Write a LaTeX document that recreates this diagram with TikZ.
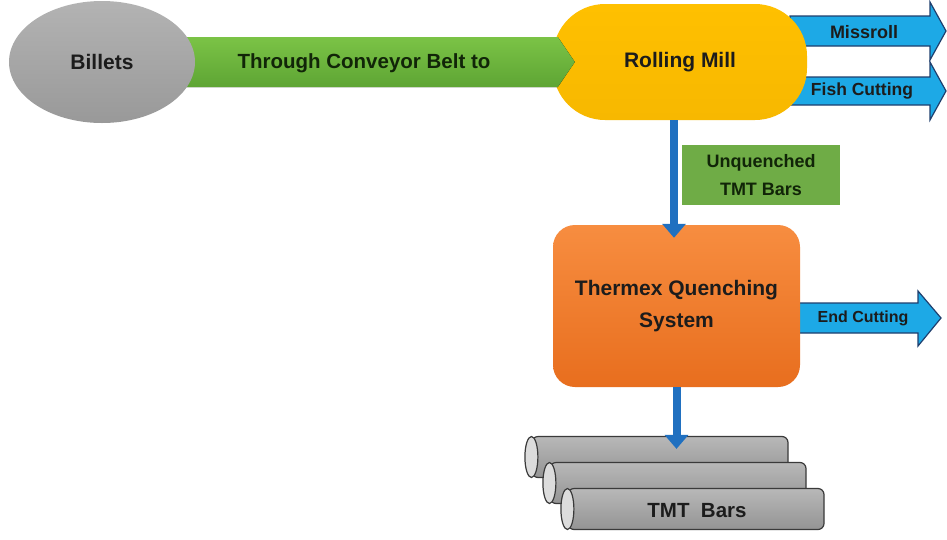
\documentclass[tikz,border=0pt]{standalone}
\usepackage{fontspec}
\setmainfont{Liberation Sans}
\usetikzlibrary{shapes.geometric,arrows.meta,calc}
\definecolor{txt}{HTML}{1C1C1C}
\definecolor{gtxt}{HTML}{112508}
\definecolor{grayA}{HTML}{B3B3B3}
\definecolor{grayB}{HTML}{999999}
\definecolor{greenA}{HTML}{7BC346}
\definecolor{greenB}{HTML}{5EA534}
\definecolor{boxgreen}{HTML}{6FAC46}
\definecolor{gold}{HTML}{FFC000}
\definecolor{goldB}{HTML}{F7B800}
\definecolor{orangeA}{HTML}{F78D40}
\definecolor{orangeB}{HTML}{E86E1E}
\definecolor{skyblue}{HTML}{1DA9E6}
\definecolor{navy}{HTML}{1F3F6E}
\definecolor{connblue}{HTML}{2070C0}
\definecolor{barA}{HTML}{B8B8B8}
\definecolor{barB}{HTML}{949494}
\definecolor{barcapc}{HTML}{DCDCDC}
\definecolor{baredge}{HTML}{3A3A3A}
\pgfdeclarelayer{bottom}
\pgfdeclarelayer{back}
\pgfdeclarelayer{front}
\pgfsetlayers{bottom,back,main,front}
\begin{document}
\begin{tikzpicture}[x=1pt,y=-1pt,
  lbl/.style={font=\bfseries\fontsize{21}{32}\selectfont, text=txt, align=center},
  smlbl/.style={font=\bfseries\fontsize{17.5}{28}\selectfont, text=txt, align=center},
  billets/.style={ellipse, top color=grayA, bottom color=grayB, draw=none,
    minimum width=186pt, minimum height=122pt, lbl},
  rmill/.style={rectangle, rounded corners=52pt, top color=gold, bottom color=goldB,
    minimum width=254pt, minimum height=116pt, lbl},
  thermex/.style={rectangle, rounded corners=22pt, top color=orangeA, bottom color=orangeB,
    minimum width=247pt, minimum height=162pt, lbl},
  unq/.style={rectangle, fill=boxgreen, minimum width=158pt, minimum height=60pt,
    smlbl, font=\bfseries\fontsize{18}{28}\selectfont, text=gtxt},
  convfill/.style={top color=greenA, bottom color=greenB},
  exitarrow/.style={fill=skyblue, draw=navy, line width=1.2pt, line join=miter},
  conn/.style={draw=connblue, line width=8pt,
    -{Triangle[width=23pt,length=14pt]}},
  barbody/.style={rectangle, rounded corners=6pt, draw=baredge, line width=1.2pt,
    top color=barA, bottom color=barB, minimum width=256pt, minimum height=41pt},
  barcap/.style={fill=barcapc, draw=baredge, line width=1.2pt}
]
\begin{pgfonlayer}{bottom}
\fill[white] (0,0) rectangle (947,539);
\end{pgfonlayer}
\useasboundingbox (0,0) rectangle (947,539);

% Billets on top layer
\begin{pgfonlayer}{front}
\node[billets] (bil) at (102,62) {Billets};
\end{pgfonlayer}

% exit arrows behind
\begin{pgfonlayer}{back}
\draw[exitarrow] (790,16) -- (930,16) -- (930,2) -- (946,31) -- (930,60) -- (930,46) -- (790,46) -- cycle;
\draw[exitarrow] (790,77) -- (930,77) -- (930,62) -- (946,91) -- (930,120) -- (930,105) -- (790,105) -- cycle;
\draw[exitarrow] (790,303) -- (918,303) -- (918,291) -- (941,318) -- (918,346) -- (918,333) -- (790,333) -- cycle;
\end{pgfonlayer}

% Rolling mill
\node[rmill] (rm) at (680,62) {Rolling Mill};

% conveyor belt arrow
\fill[convfill] ($(bil.center)+(0,-25)$) -- ($(rm.west)+(5,-25)$) -- ($(rm.west)+(22,0)$)
  -- ($(rm.west)+(5,25)$) -- ($(bil.center)+(0,25)$) -- cycle;
\node[lbl, font=\bfseries\fontsize{20.5}{25}\selectfont, text=gtxt] (conv) at (364,63) {Through Conveyor Belt to};

% exit labels
\node[smlbl, font=\bfseries\fontsize{18}{22}\selectfont] (miss) at (864,32) {Missroll};
\node[smlbl, font=\bfseries\fontsize{17.5}{22}\selectfont] (fish) at (862,91) {Fish Cutting};

% unquenched label box
\node[unq] (unq) at (761,175) {Unquenched\\TMT Bars};

% Thermex
\node[thermex] (tq) at (676.5,306) {Thermex Quenching\\System};
\node[smlbl, font=\bfseries\fontsize{16}{20}\selectfont] (endc) at (863,318) {End Cutting};

% bars
\node[barbody] (bar1) at (660,457) {};
\draw[barcap] (bar1.west) ellipse (6.5 and 20.5);
\node[barbody] (bar2) at (678,483) {};
\draw[barcap] (bar2.west) ellipse (6.5 and 20.5);
\node[barbody] (bar3) at (696,509) {};
\draw[barcap] (bar3.west) ellipse (6.5 and 20.5);
\node[lbl, font=\bfseries\fontsize{20.5}{25}\selectfont] (tmt) at (697,511) {TMT\ \ Bars};

% connectors
\draw[conn, shorten >=-13pt] ([xshift=-6pt]rm.south) -- ([xshift=-6pt]rm.south |- tq.north);
\draw[conn, shorten >=-13pt] (tq.south) -- (tq.south |- bar1.north);
\end{tikzpicture}
\end{document}
